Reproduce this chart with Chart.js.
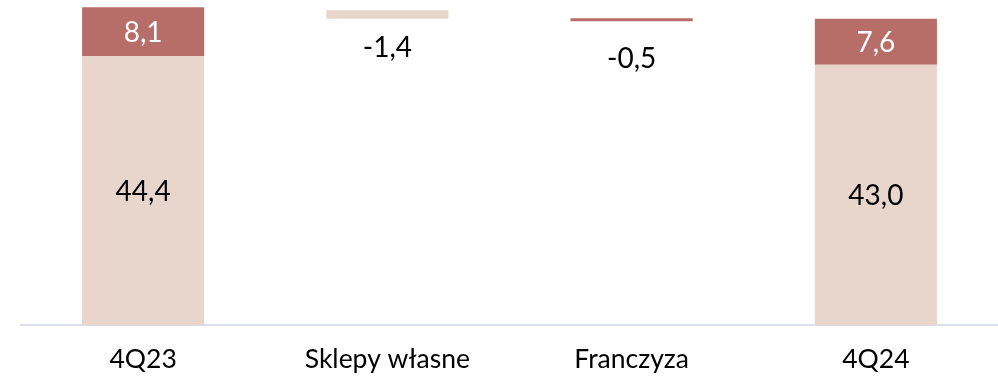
<!DOCTYPE html>
<html lang="pl">
<head>
<meta charset="utf-8">
<title>4Q23 – 4Q24</title>
<script src="https://cdn.jsdelivr.net/npm/chart.js@4.4.1/dist/chart.umd.min.js"></script>
<style>
  html, body { margin: 0; padding: 0; background: #ffffff; }
  #wrap { position: relative; width: 998px; height: 378px; }
</style>
</head>
<body>
<div id="wrap"><canvas id="chart"></canvas></div>
<script>
// Categories of the bridge
const categories = ['4Q23', 'Sklepy własne', 'Franczyza', '4Q24'];

// Own stores component (signed; negative = change step)
const ownStores = [44.4, -1.4, null, 43.0];
// Franchise component (signed; negative = change step)
const franchise = [8.1, null, -0.5, 7.6];
// Invisible floor under the change steps
const floor = [0, 50.6, 50.2, 0];

const COLOR_OWN = '#E8D6CC';
const COLOR_FRANCHISE = '#B76E69';

const fmt = v => v.toFixed(1).replace('.', ',');
const abs = arr => arr.map(v => (v === null ? null : Math.abs(v)));

// Draws the value labels: inside the bars for totals, under the bar for changes
const valueLabels = {
  id: 'valueLabels',
  afterDatasetsDraw(chart, args, opts) {
    const ctx = chart.ctx;
    ctx.save();
    ctx.font = opts.font;
    ctx.textAlign = 'center';
    ctx.textBaseline = 'middle';
    [[1, ownStores, opts.colors[0]], [2, franchise, opts.colors[1]]].forEach(([di, values, inside]) => {
      const meta = chart.getDatasetMeta(di);
      meta.data.forEach((bar, i) => {
        const v = values[i];
        if (v === null) return;
        const top = Math.min(bar.y, bar.base);
        const bottom = Math.max(bar.y, bar.base);
        if (v < 0) {
          ctx.fillStyle = '#000000';
          ctx.fillText(fmt(v), bar.x, bottom + opts.below[i]);
        } else {
          ctx.fillStyle = inside;
          ctx.fillText(fmt(v), bar.x, (top + bottom) / 2 + 1);
        }
      });
    });
    ctx.restore();
  }
};

new Chart(document.getElementById('chart'), {
  type: 'bar',
  data: {
    labels: categories,
    datasets: [
      { label: 'floor', data: floor, backgroundColor: 'rgba(0,0,0,0)', stack: 's' },
      { label: 'Sklepy własne', data: abs(ownStores), backgroundColor: COLOR_OWN, stack: 's' },
      { label: 'Franczyza', data: abs(franchise), backgroundColor: COLOR_FRANCHISE, stack: 's' }
    ]
  },
  options: {
    responsive: true,
    maintainAspectRatio: false,
    animation: false,
    devicePixelRatio: 1,
    layout: { padding: { left: 21, right: 0, top: 0, bottom: 0 } },
    datasets: { bar: { barPercentage: 1, categoryPercentage: 0.5, borderWidth: 0 } },
    plugins: {
      legend: { display: false },
      tooltip: { enabled: false },
      valueLabels: {
        font: '28px Lato',
        colors: ['#000000', '#ffffff'],
        below: [0, 29, 38, 0]
      }
    },
    scales: {
      x: {
        stacked: true,
        grid: { display: false, drawTicks: false },
        border: { display: true, color: '#D9DEE8', width: 2 },
        ticks: { color: '#000000', font: { family: 'Lato', size: 26.5 }, padding: 19, maxRotation: 0 },
        afterFit(scale) { scale.height = 53; }
      },
      y: {
        stacked: true,
        display: false,
        min: 0,
        max: 53.7
      }
    }
  },
  plugins: [valueLabels]
});
</script>
</body>
</html>
